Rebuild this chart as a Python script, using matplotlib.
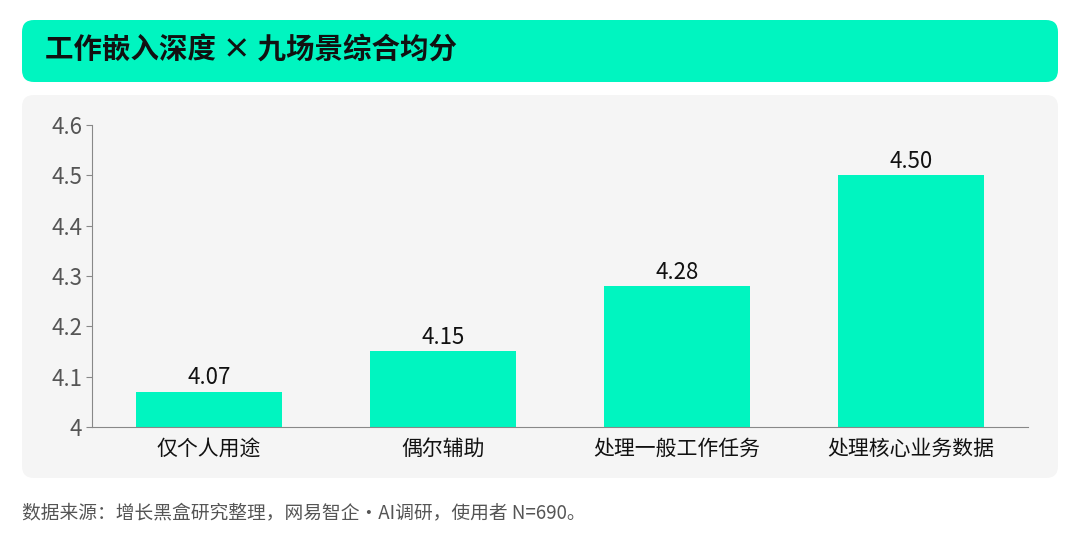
import matplotlib
matplotlib.use("Agg")
import matplotlib.pyplot as plt
from matplotlib.patches import FancyBboxPatch

plt.rcParams['font.family'] = ['Noto Sans CJK SC', 'DejaVu Sans']

categories = ["仅个人用途", "偶尔辅助", "处理一般工作任务", "处理核心业务数据"]
values = [4.07, 4.15, 4.28, 4.50]
yticks = [4, 4.1, 4.2, 4.3, 4.4, 4.5, 4.6]
ytick_labels = ["4", "4.1", "4.2", "4.3", "4.4", "4.5", "4.6"]
title = "工作嵌入深度 × 九场景综合均分"
source = "数据来源：增长黑盒研究整理，网易智企·AI调研，使用者 N=690。"

W, H = 1080, 545
fig = plt.figure(figsize=(W/100, H/100), dpi=100)
fig.patch.set_facecolor("white")

mint = "#00F5C0"
def rbox(x0, y0, x1, y1, color, r=12):
    p = FancyBboxPatch((x0/W, 1-y1/H), (x1-x0)/W, (y1-y0)/H,
                       boxstyle=f"round,pad=0,rounding_size={r/W}",
                       transform=fig.transFigure, facecolor=color, edgecolor="none",
                       mutation_aspect=W/H, zorder=-10)
    fig.patches.append(p)

rbox(22, 20, 1058, 82, mint)
rbox(22, 95, 1058, 478, "#F5F5F5")
fig.text(45/W, 1-51/H, title, fontsize=20.5, fontweight="bold", color="#111111", va="center")
fig.text(22/W, 1-513/H, source, fontsize=13.5, color="#555555", va="center", fontweight="light")

ax = fig.add_axes([92/W, 1-427/H, (1028-92)/W, (427-125)/H])
ax.set_zorder(5)
ax.set_facecolor("none")
x = range(len(categories))
bars = ax.bar(x, [v-4 for v in values], bottom=4, width=0.62, color=mint)
for xi, v in zip(x, values):
    ax.text(xi, v+0.005, f"{v:.2f}", ha="center", va="bottom", fontsize=16, color="#111111", fontweight="light")
ax.set_ylim(4, 4.6)
ax.set_xlim(-0.5, 3.5)
ax.set_yticks(yticks)
ax.set_yticklabels(ytick_labels, fontsize=16, color="#555555", fontweight="light")
ax.set_xticks(list(x))
ax.set_xticklabels(categories, fontsize=15, color="#111111", fontweight="light")
ax.tick_params(axis="x", length=0, pad=8)
ax.tick_params(axis="y", length=4, color="#888888", pad=3)
for s in ["top", "right"]:
    ax.spines[s].set_visible(False)
for s in ["left", "bottom"]:
    ax.spines[s].set_color("#888888")
fig.savefig("out.png", dpi=100)
